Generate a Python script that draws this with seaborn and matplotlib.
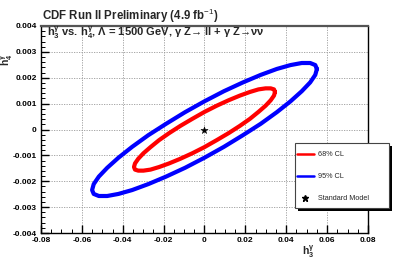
import matplotlib
matplotlib.use("Agg")
import matplotlib.pyplot as plt
import seaborn as sns
import pandas as pd
from matplotlib.patches import Rectangle
from matplotlib.lines import Line2D

# ---- data ----
cl95_h3 = [0.0550, 0.0542, 0.0517, 0.0476, 0.0421, 0.0354, 0.0275, 0.0188, 0.0095, 0.0,
           -0.0095, -0.0188, -0.0275, -0.0354, -0.0421, -0.0476, -0.0517, -0.0542, -0.0550,
           -0.0542, -0.0517, -0.0476, -0.0421, -0.0354, -0.0275, -0.0188, -0.0095, 0.0,
           0.0095, 0.0188, 0.0275, 0.0354, 0.0421, 0.0476, 0.0517, 0.0542, 0.0550]
cl95_h4 = [0.00234, 0.00249, 0.00257, 0.00257, 0.00249, 0.00234, 0.00211, 0.00182, 0.00148, 0.00109,
           0.00067, 0.00022, -0.00022, -0.00067, -0.00109, -0.00148, -0.00182, -0.00211, -0.00234,
           -0.00249, -0.00257, -0.00257, -0.00249, -0.00234, -0.00211, -0.00182, -0.00148, -0.00109,
           -0.00067, -0.00022, 0.00022, 0.00067, 0.00109, 0.00148, 0.00182, 0.00211, 0.00234]
cl68_h3 = [0.0345, 0.0340, 0.0324, 0.0299, 0.0264, 0.0222, 0.0173, 0.0118, 0.0060, 0.0,
           -0.0060, -0.0118, -0.0173, -0.0222, -0.0264, -0.0299, -0.0324, -0.0340, -0.0345,
           -0.0340, -0.0324, -0.0299, -0.0264, -0.0222, -0.0173, -0.0118, -0.0060, 0.0,
           0.0060, 0.0118, 0.0173, 0.0222, 0.0264, 0.0299, 0.0324, 0.0340, 0.0345]
cl68_h4 = [0.00145, 0.00155, 0.00159, 0.00159, 0.00155, 0.00145, 0.00131, 0.00113, 0.00092, 0.00068,
           0.00041, 0.00014, -0.00014, -0.00041, -0.00068, -0.00092, -0.00113, -0.00131, -0.00145,
           -0.00155, -0.00159, -0.00159, -0.00155, -0.00145, -0.00131, -0.00113, -0.00092, -0.00068,
           -0.00041, -0.00014, 0.00014, 0.00041, 0.00068, 0.00092, 0.00113, 0.00131, 0.00145]
sm_h3 = [0.0]
sm_h4 = [0.0]
xticks = [-0.08, -0.06, -0.04, -0.02, 0.0, 0.02, 0.04, 0.06, 0.08]
xticklabels = ["-0.08", "-0.06", "-0.04", "-0.02", "0", "0.02", "0.04", "0.06", "0.08"]
yticks = [-0.004, -0.003, -0.002, -0.001, 0.0, 0.001, 0.002, 0.003, 0.004]
yticklabels = ["-0.004", "-0.003", "-0.002", "-0.001", "0", "0.001", "0.002", "0.003", "0.004"]
legend_labels = ["68% CL", "95% CL", "Standard Model"]

sns.set_theme(style="white")
plt.rcParams["font.family"] = ["Liberation Sans", "DejaVu Sans"]
plt.rcParams["mathtext.fontset"] = "custom"
plt.rcParams["mathtext.rm"] = "Liberation Sans:bold"
plt.rcParams["mathtext.bf"] = "Liberation Sans:bold"
plt.rcParams["mathtext.it"] = "Liberation Sans:bold"
plt.rcParams["mathtext.sf"] = "Liberation Sans"

W, H = 409, 261
fig = plt.figure(figsize=(W / 100, H / 100), dpi=100)
fig.patch.set_facecolor("white")
ax = fig.add_axes([41 / W, 1 - 233 / H, 327 / W, 207 / H])
ax.set_facecolor("white")

df95 = pd.DataFrame({"h3": cl95_h3, "h4": cl95_h4})
df68 = pd.DataFrame({"h3": cl68_h3, "h4": cl68_h4})
dfsm = pd.DataFrame({"h3": sm_h3, "h4": sm_h4})

sns.lineplot(data=df95, x="h3", y="h4", sort=False, estimator=None, color="#0000ff",
             linewidth=3.0, ax=ax, zorder=3)
sns.lineplot(data=df68, x="h3", y="h4", sort=False, estimator=None, color="#ff0000",
             linewidth=3.0, ax=ax, zorder=3)
for ln in ax.get_lines():
    ln.set_solid_joinstyle("round")
    ln.set_solid_capstyle("round")
sns.scatterplot(data=dfsm, x="h3", y="h4", marker="*", s=30, color="black", edgecolor="black",
                linewidth=0.3, ax=ax, zorder=4)

ax.set_xlim(-0.08, 0.08)
ax.set_ylim(-0.004, 0.004)
ax.set_xticks(xticks)
ax.set_xticklabels(xticklabels)
ax.set_yticks(yticks)
ax.set_yticklabels(yticklabels)
ax.set_xticks([x / 1000 for x in range(-80, 81, 5)], minor=True)
ax.set_yticks([y / 10000 for y in range(-40, 41, 2)], minor=True)
ax.grid(True, which="major", color="#999999", linestyle=(0, (1.5, 1.5)), linewidth=0.6)
ax.tick_params(axis="both", which="major", direction="in", length=6, width=1.0,
               labelsize=6, pad=3, top=False, right=False, left=True, bottom=True, colors="black")
ax.tick_params(axis="both", which="minor", direction="in", length=3, width=0.7,
               top=False, right=False, left=True, bottom=True, colors="black")
for lab in ax.get_xticklabels() + ax.get_yticklabels():
    lab.set_fontweight("bold")
ax.set_xlabel("")
ax.set_ylabel("")

for s in ["left", "bottom", "right"]:
    ax.spines[s].set_color("black")
    ax.spines[s].set_linewidth(1.0)
ax.spines["top"].set_color("#555555")
ax.spines["top"].set_linewidth(1.6)

# axis titles
fig.text(308 / W, 1 - 252 / H, r"h$^{\gamma}_{3}$", fontsize=7.5, fontweight="bold",
         ha="center", va="center")
fig.text(7 / W, 1 - 60 / H, r"h$^{\gamma}_{4}$", fontsize=7.5, fontweight="bold",
         ha="center", va="center", rotation=90)

# titles
fig.text(42 / W, 1 - 16 / H, r"CDF Run II Preliminary (4.9 fb$^{\mathsf{-1}}$)", fontsize=8.3,
         fontweight="bold", ha="left", va="center")
fig.text(47 / W, 1 - 33 / H,
         "h$^{\\gamma}_{3}$ vs. h$^{\\gamma}_{4}$, \u039b = 1500 GeV, \u03b3 Z\u2192 ll + \u03b3 Z\u2192\u03bd\u03bd",
         fontsize=8.0, fontweight="bold", ha="left", va="center")

# legend box with shadow
bx0, by0, bx1, by1 = 295, 143, 389, 208
fig.patches.append(Rectangle(((bx0 + 3) / W, 1 - (by1 + 3) / H), (bx1 - bx0) / W, (by1 - by0) / H,
                             transform=fig.transFigure, facecolor="black", edgecolor="none", zorder=5))
fig.patches.append(Rectangle((bx0 / W, 1 - by1 / H), (bx1 - bx0) / W, (by1 - by0) / H,
                             transform=fig.transFigure, facecolor="white", edgecolor="#444444",
                             linewidth=0.8, zorder=6))
entry_y = [154, 176, 198]
colors = ["#ff0000", "#0000ff"]
for i in range(2):
    fig.lines.append(Line2D([297 / W, 314 / W], [1 - entry_y[i] / H] * 2, transform=fig.transFigure,
                            color=colors[i], linewidth=1.8, zorder=7))
fig.lines.append(Line2D([305 / W], [1 - entry_y[2] / H], transform=fig.transFigure, marker="*",
                        markersize=5, color="black", linestyle="none", zorder=7))
for i, lab in enumerate(legend_labels):
    fig.text(318 / W, 1 - entry_y[i] / H, lab, fontsize=5.2, ha="left", va="center", zorder=8)

fig.savefig("out.png", dpi=100, facecolor="white")
